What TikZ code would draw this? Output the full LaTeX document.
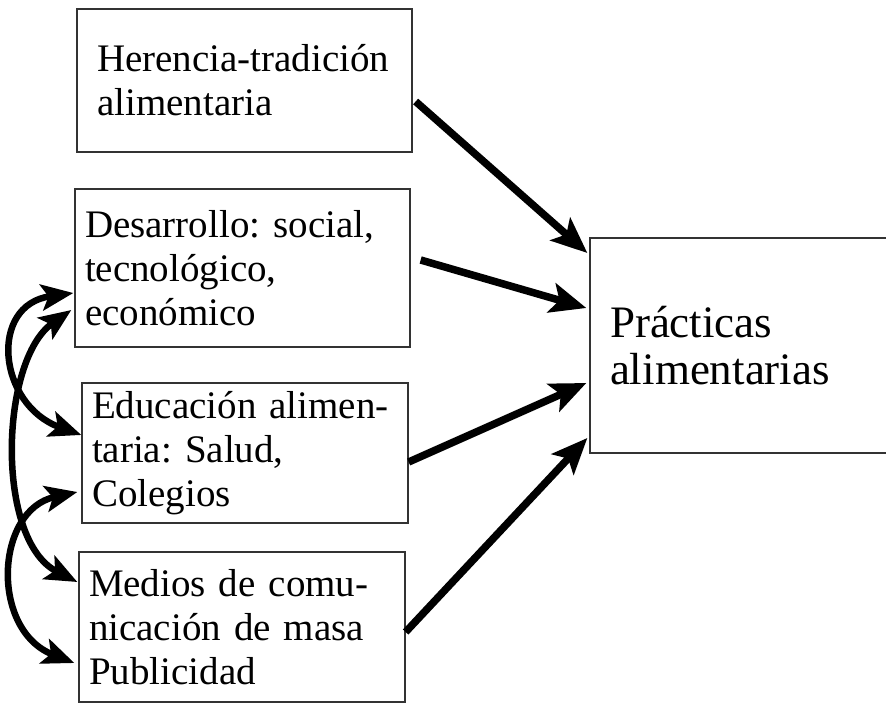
\documentclass[tikz,border=0pt]{standalone}
\usepackage{fontspec}
\setmainfont{Liberation Serif}
\usetikzlibrary{arrows.meta,calc}
\frenchspacing
\begin{document}
\begin{tikzpicture}[x=1pt,y=-1pt,
  box/.style={draw=black!80,line width=1.3pt,rectangle,align=left,
    font=\fontsize{39}{44}\selectfont\frenchspacing},
  bigbox/.style={draw=black!80,line width=1.3pt,rectangle,align=left,
    font=\fontsize{45}{47}\selectfont\frenchspacing},
  arr/.style={line width=7.5pt,-{Stealth[length=36pt,width=30pt,inset=8pt]}},
  darr/.style={line width=6.5pt,{Stealth[length=32pt,width=26pt,inset=7pt]}-{Stealth[length=32pt,width=26pt,inset=7pt]}}]
\useasboundingbox (0,0) rectangle (886,704);
\fill[white] (0,0) rectangle (886,704);

\node[box,minimum width=335pt,minimum height=143pt,inner xsep=20pt,text width=295pt] (h) at (244.5,80.5)
  {Herencia-tradición\\alimentaria};
\node[box,minimum width=335pt,minimum height=158pt,inner xsep=10pt,text width=315pt] (d) at (242.5,268)
  {Desarrollo: social,\\tecnológico,\\económico};
\node[box,minimum width=326pt,minimum height=140pt,inner xsep=10pt,text width=306pt] (e) at (245,453)
  {Educación alimen-\\taria: Salud,\\Colegios};
\node[box,minimum width=326pt,minimum height=150pt,inner xsep=10pt,text width=306pt] (m) at (242,627)
  {Medios de comu-\\nicación de masa\\Publicidad};
\node[bigbox,minimum width=300pt,minimum height=215pt,inner xsep=20pt,text width=260pt] (p) at (740,345.5)
  {Prácticas\\alimentarias};

\draw[arr] ($(h.east)+(3,21)$) -- ($(p.west)+(-2,-92.5)$);
\draw[arr] ($(d.east)+(10,-8)$) -- ($(p.west)+(-3,-37.5)$);
\draw[arr] ($(e.east)+(0,9)$) -- ($(p.west)+(-3,37.5)$);
\draw[arr] ($(m.east)+(0,5)$) -- ($(p.west)+(-2,92.5)$);

\draw[darr] ($(d.west)+(-1,25)$) .. controls (-12,305) and (-2,405) .. ($(e.west)+(0,-18)$);
\draw[darr] ($(d.west)+(-3,42)$) .. controls (0,360) and (-5,540) .. ($(m.west)+(-1,-45)$);
\draw[darr] ($(e.west)+(-4,39)$) .. controls (-5,510) and (-10,630) .. ($(m.west)+(-4,36)$);
\end{tikzpicture}
\end{document}
